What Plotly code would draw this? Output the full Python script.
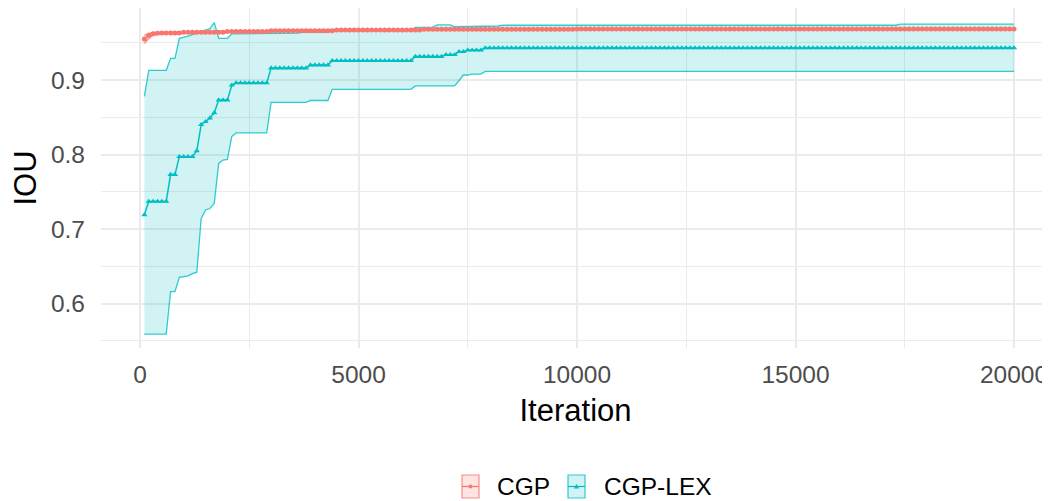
import numpy as np
import plotly.graph_objects as go

# ---------------- data ----------------
iterations = list(range(100, 20001, 100))  # 200 checkpoints

# run-length encoded series: value held for `count` consecutive checkpoints
lex_mean_values = [0.719, 0.737, 0.773, 0.797, 0.805, 0.840, 0.844, 0.849, 0.856, 0.873,
                   0.893, 0.896, 0.916, 0.920, 0.926, 0.9315, 0.934, 0.938, 0.940, 0.943]
lex_mean_counts = [1, 5, 2, 4, 1, 1, 1, 1, 1, 3, 1, 8, 9, 5, 19, 7, 3, 2, 4, 122]

lex_upper_values = [0.878, 0.913, 0.929, 0.956, 0.957, 0.959, 0.961, 0.963, 0.965, 0.967,
                    0.969, 0.977, 0.956, 0.962, 0.963, 0.964, 0.967, 0.9707, 0.971, 0.974,
                    0.9715, 0.9725, 0.9735, 0.975]
lex_upper_counts = [1, 5, 2, 1, 1, 1, 1, 1, 1, 1, 1, 1, 3, 9, 7, 7, 19, 1, 4, 4, 7, 4, 91, 27]

lex_lower_values = [0.559, 0.616, 0.635, 0.636, 0.637, 0.640, 0.642, 0.714, 0.7255, 0.7275,
                    0.7345, 0.788, 0.7926, 0.7935, 0.824, 0.829, 0.870, 0.8725, 0.8875, 0.892,
                    0.899, 0.9067, 0.908, 0.9115]
lex_lower_counts = [6, 2, 1, 1, 1, 1, 1, 1, 1, 1, 1, 1, 1, 1, 1, 8, 9, 5, 19, 10, 1, 2, 3, 122]

cgp_counts = [1, 1, 1, 1, 5, 10, 10, 15, 20, 35, 101]
cgp_mean_values = [0.955, 0.960, 0.962, 0.9627, 0.963, 0.964, 0.965, 0.966, 0.967, 0.968, 0.9685]
cgp_upper_values = [0.960, 0.9625, 0.9638, 0.9640, 0.9645, 0.9652, 0.9662, 0.9672, 0.9682, 0.9689, 0.9692]
cgp_lower_values = [0.949, 0.9555, 0.9600, 0.9615, 0.9622, 0.9630, 0.9640, 0.9652, 0.9663, 0.9673, 0.9678]

series_names = ["CGP", "CGP-LEX"]
x_ticks = [0, 5000, 10000, 15000, 20000]
y_ticks = [0.6, 0.7, 0.8, 0.9]


def expand(values, counts):
    return np.repeat(values, counts).tolist()


lex_mean = expand(lex_mean_values, lex_mean_counts)
lex_upper = expand(lex_upper_values, lex_upper_counts)
lex_lower = expand(lex_lower_values, lex_lower_counts)
cgp_mean = expand(cgp_mean_values, cgp_counts)
cgp_upper = expand(cgp_upper_values, cgp_counts)
cgp_lower = expand(cgp_lower_values, cgp_counts)

# ---------------- style ----------------
RED = "#F8766D"
TEAL = "#00BFC4"
RED_FILL = "rgba(248,118,109,0.2)"
TEAL_FILL = "rgba(0,191,196,0.18)"
RED_EDGE = "rgba(248,118,109,0.8)"
TEAL_EDGE = "rgba(0,191,196,0.8)"
GRID = "#EBEBEB"
FONT = "Liberation Sans, Arial, Helvetica, sans-serif"

# the page body has an 8px margin; all page-pixel positions below are shifted by it
OFF = 8
W, H = 1050 - OFF, 501 - OFF
PL, PR, PT, PB = 101 - OFF, 1050 - OFF, 0, 348 - OFF  # plot panel in figure pixels

fig = go.Figure()

# ribbons
fig.add_trace(go.Scatter(x=iterations, y=lex_lower, mode="lines",
                         line=dict(color=TEAL_EDGE, width=1.3), showlegend=False,
                         hoverinfo="skip"))
fig.add_trace(go.Scatter(x=iterations, y=lex_upper, mode="lines", fill="tonexty",
                         fillcolor=TEAL_FILL, line=dict(color=TEAL_EDGE, width=1.3),
                         showlegend=False, hoverinfo="skip"))
fig.add_trace(go.Scatter(x=iterations, y=cgp_lower, mode="lines",
                         line=dict(color=RED_EDGE, width=1.3), showlegend=False,
                         hoverinfo="skip"))
fig.add_trace(go.Scatter(x=iterations, y=cgp_upper, mode="lines", fill="tonexty",
                         fillcolor=RED_FILL, line=dict(color=RED_EDGE, width=1.3),
                         showlegend=False, hoverinfo="skip"))
# means
fig.add_trace(go.Scatter(x=iterations, y=lex_mean, mode="lines+markers", name="CGP-LEX",
                         line=dict(color=TEAL, width=1.5),
                         marker=dict(symbol="triangle-up", size=5.5, color=TEAL),
                         showlegend=False))
fig.add_trace(go.Scatter(x=iterations, y=cgp_mean, mode="lines+markers", name="CGP",
                         line=dict(color=RED, width=1.6),
                         marker=dict(symbol="circle", size=5, color=RED),
                         showlegend=False))

# axis ranges: 0 -> page x 140, 20000 -> page x 1014; 0.9 -> page y 80, 0.1 = 74.5 px
x_per_px = 20000 / (1014 - 140)
x0_px = 140 - OFF
x_range = [(PL - x0_px) * x_per_px, (PR - x0_px) * x_per_px]
y_per_px = 0.1 / 74.5
y09_px = 80 - OFF
y_range = [0.9 - (PB - y09_px) * y_per_px, 0.9 + (y09_px - PT) * y_per_px]

fig.update_layout(
    width=W, height=H,
    margin=dict(l=PL, r=W - PR, t=PT, b=H - PB, pad=0),
    paper_bgcolor="white", plot_bgcolor="white",
    font=dict(family=FONT),
    showlegend=False,
    xaxis=dict(range=x_range, tickvals=x_ticks, ticktext=[str(v) for v in x_ticks],
               showgrid=True, gridcolor=GRID, gridwidth=2.2, zeroline=False,
               showline=False, ticks="", tickfont=dict(size=24.5, color="#4D4D4D"),
               ticklabelstandoff=9,
               minor=dict(dtick=2500, tick0=0, showgrid=True, gridcolor=GRID, gridwidth=1.1),
               title=dict(text="Iteration", font=dict(size=31, color="black"), standoff=12),
               automargin=False),
    yaxis=dict(range=y_range, tickvals=y_ticks, ticktext=[str(v) for v in y_ticks],
               showgrid=True, gridcolor=GRID, gridwidth=2.2, zeroline=False,
               showline=False, ticks="", tickfont=dict(size=24.5, color="#4D4D4D"),
               ticklabelstandoff=15,
               minor=dict(dtick=0.05, tick0=0.55, showgrid=True, gridcolor=GRID, gridwidth=1.1),
               title=dict(text="IOU", font=dict(size=31, color="black"), standoff=9),
               automargin=False),
)


# ---------------- manual legend (ggplot-style keys) ----------------
def px_x(p):
    """page pixel x -> paper coordinate"""
    return (p - OFF - PL) / (PR - PL)


def px_y(p):
    """page pixel y -> paper coordinate"""
    return (PB - (p - OFF)) / (PB - PT)


shapes = []
annotations = []
legend_items = [
    (series_names[0], RED, RED_FILL, RED_EDGE, 462, 495, "circle"),
    (series_names[1], TEAL, TEAL_FILL, TEAL_EDGE, 568, 602, "triangle"),
]
ky0, ky1 = 475, 498
kyc = (ky0 + ky1) / 2
for name, col, fill, edge, kx, tx, sym in legend_items:
    shapes.append(dict(type="rect", xref="paper", yref="paper",
                       x0=px_x(kx), x1=px_x(kx + 17), y0=px_y(ky1), y1=px_y(ky0),
                       fillcolor=fill, line=dict(color=edge, width=1.2)))
    shapes.append(dict(type="line", xref="paper", yref="paper",
                       x0=px_x(kx), x1=px_x(kx + 17), y0=px_y(kyc), y1=px_y(kyc),
                       line=dict(color=col, width=1.2)))
    cx = kx + 8.5
    if sym == "circle":
        shapes.append(dict(type="circle", xref="paper", yref="paper",
                           x0=px_x(cx - 2), x1=px_x(cx + 2), y0=px_y(kyc + 2), y1=px_y(kyc - 2),
                           fillcolor=col, line=dict(color=col, width=0)))
    else:
        path = "M {:.5f},{:.5f} L {:.5f},{:.5f} L {:.5f},{:.5f} Z".format(
            px_x(cx - 2.6), px_y(kyc + 2), px_x(cx + 2.6), px_y(kyc + 2),
            px_x(cx), px_y(kyc - 2.6))
        shapes.append(dict(type="path", xref="paper", yref="paper", path=path,
                           fillcolor=col, line=dict(color=col, width=0)))
    annotations.append(dict(text=name, xref="paper", yref="paper", x=px_x(tx), y=px_y(kyc),
                            xanchor="left", yanchor="middle", showarrow=False,
                            font=dict(size=24.5, color="black", family=FONT)))

fig.update_layout(shapes=shapes, annotations=annotations)

fig.write_html("out.html")
